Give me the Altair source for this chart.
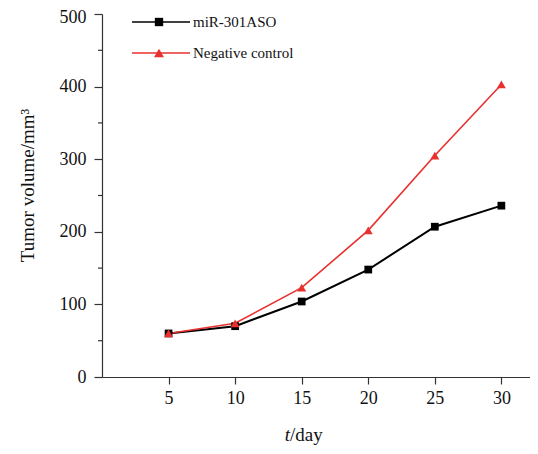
import altair as alt
import pandas as pd

days = [5, 10, 15, 20, 25, 30]
aso = [60, 70, 104, 148, 207, 236]
neg = [60, 74, 123, 202, 305, 403]
y_ticks = [0, 100, 200, 300, 400, 500]
y_minor = [50, 150, 250, 350, 450]
x_ticks = [5, 10, 15, 20, 25, 30]
series_names = ["miR-301ASO", "Negative control"]

RED = "#e8312f"
AX = "#333333"
FONT = "Liberation Serif"

df_aso = pd.DataFrame({"day": days, "vol": aso})
df_neg = pd.DataFrame({"day": days, "vol": neg})
df_minor = pd.DataFrame({"vol": y_minor})

x_enc = alt.X(
    "day:Q",
    scale=alt.Scale(domain=[0, 32.15], nice=False, zero=False),
    axis=alt.Axis(
        values=x_ticks, title=None, grid=False, tickSize=7, labelPadding=5,
        labelFont=FONT, labelFontSize=18, labelColor="#111",
        domainColor=AX, tickColor=AX, domainWidth=1.2, tickWidth=1.2,
    ),
)
y_enc = alt.Y(
    "vol:Q",
    scale=alt.Scale(domain=[0, 500], nice=False),
    axis=alt.Axis(
        values=y_ticks, title="Tumor volume/mm³", grid=False, tickSize=8,
        labelPadding=8, labelFont=FONT, labelFontSize=18, labelColor="#111",
        labelOffset=alt.condition("datum.value == 500", alt.value(3), alt.value(0)),
        domainColor=AX, tickColor=AX, domainWidth=1.2, tickWidth=1.2,
        titleFont=FONT, titleFontSize=19, titleFontWeight="normal", titleColor="#111",
        titleAngle=270, titleX=-69, titleY=171, titleAlign="center",
        titleBaseline="alphabetic",
    ),
)

line_aso = alt.Chart(df_aso).mark_line(color="black", strokeWidth=2).encode(x=x_enc, y=y_enc)
pts_aso = alt.Chart(df_aso).mark_point(shape="square", filled=True, color="black", size=60, opacity=1).encode(x="day:Q", y="vol:Q")
line_neg = alt.Chart(df_neg).mark_line(color=RED, strokeWidth=1.6).encode(x="day:Q", y="vol:Q")
pts_neg = alt.Chart(df_neg).mark_point(shape="triangle-up", filled=True, color=RED, size=80, opacity=1).encode(x="day:Q", y="vol:Q")

minor = alt.Chart(df_minor).mark_rule(color=AX, strokeWidth=1.2).encode(
    x=alt.value(-4), x2=alt.value(0), y="vol:Q"
)

# legend
leg1 = pd.DataFrame({"name": [series_names[0]]})
leg2 = pd.DataFrame({"name": [series_names[1]]})
ly1, ly2 = 8, 39
leg_layers = [
    alt.Chart(leg1).mark_rule(color="black", strokeWidth=1.6).encode(x=alt.value(30), x2=alt.value(88), y=alt.value(ly1)),
    alt.Chart(leg1).mark_point(shape="square", filled=True, color="black", size=70, opacity=1).encode(x=alt.value(57), y=alt.value(ly1)),
    alt.Chart(leg1).mark_text(align="left", baseline="middle", font=FONT, fontSize=15, color="#111").encode(x=alt.value(91), y=alt.value(ly1), text="name:N"),
    alt.Chart(leg2).mark_rule(color=RED, strokeWidth=1.6).encode(x=alt.value(30), x2=alt.value(88), y=alt.value(ly2)),
    alt.Chart(leg2).mark_point(shape="triangle-up", filled=True, color=RED, size=100, opacity=1).encode(x=alt.value(57), y=alt.value(ly2)),
    alt.Chart(leg2).mark_text(align="left", baseline="middle", font=FONT, fontSize=15, color="#111").encode(x=alt.value(91), y=alt.value(ly2), text="name:N"),
]

# x-axis title: italic t + /day
tdf = pd.DataFrame({"a": ["t"], "b": ["/day"]})
xt1 = alt.Chart(tdf).mark_text(align="right", baseline="alphabetic", font=FONT, fontSize=19, fontStyle="italic", color="#111").encode(x=alt.value(188), y=alt.value(427), text="a:N")
xt2 = alt.Chart(tdf).mark_text(align="left", baseline="alphabetic", font=FONT, fontSize=19, color="#111").encode(x=alt.value(188), y=alt.value(427), text="b:N")

chart = alt.layer(
    line_aso, line_neg, pts_aso, pts_neg, minor, *leg_layers, xt1, xt2
).properties(
    width=428, height=363,
    padding={"left": 94, "top": 6, "right": 0, "bottom": 68},
    autosize=alt.AutoSizeParams(type="none"),
).configure_view(stroke=None)

chart.save("out.html", embed_options={"renderer": "svg", "actions": False})
